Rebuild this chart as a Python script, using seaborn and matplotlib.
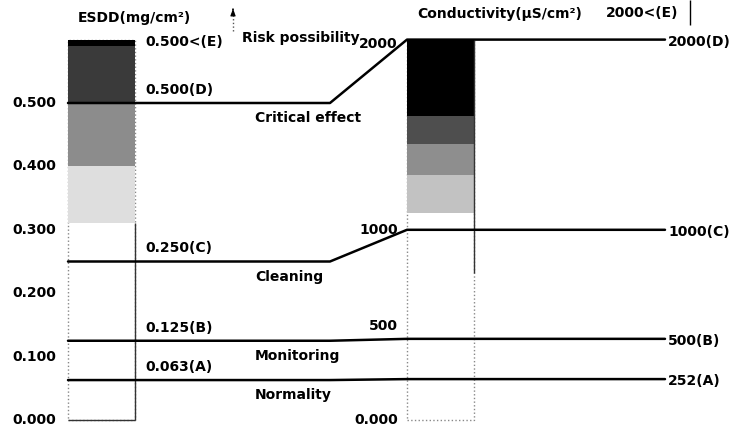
import numpy as np
import pandas as pd
import matplotlib
matplotlib.use("Agg")
import matplotlib.pyplot as plt
import seaborn as sns

# levels (A..D) on both scales
level_names = ['A', 'B', 'C', 'D']
esdd_levels = [0.063, 0.125, 0.250, 0.500]
cond_levels = [252, 500, 1000, 2000]
zone_names = ['Normality', 'Monitoring', 'Cleaning', 'Critical effect']

esdd_ticks = [0.0, 0.1, 0.2, 0.3, 0.4, 0.5]
cond_ticks = [0, 500, 1000, 2000]
cond_tick_labels = ['0.000', '500', '1000', '2000']
# conductivity scale is not linear: where each tick sits on the ESDD scale
cond_tick_esdd = [0.0, 0.128, 0.300, 0.600]

# shaded bands of the two columns
esdd_bands = [0.31, 0.40, 0.50, 0.59, 0.60]
esdd_colors = ['#dedede', '#8c8c8c', '#3a3a3a', '#000000']
cond_bands = [1090, 1290, 1450, 1600, 2000]
cond_colors = ['#c2c2c2', '#8e8e8e', '#4e4e4e', '#000000']


def c2e(v):
    return np.interp(v, cond_ticks, cond_tick_esdd)


sns.set_style('white')
plt.rcParams['font.family'] = ['DejaVu Sans']

fig = plt.figure(figsize=(7.4, 4.33), dpi=100)
ax = fig.add_axes([0, 0, 1, 1])
ax.set_xlim(0, 740)
# 634 px per 1.0 mg/cm2, zero at 420 px from top
ax.set_ylim(-13 / 634, 420 / 634)
ax.axis('off')

esdd_x0, esdd_x1 = 68, 135
cond_x0, cond_x1 = 407, 474
brk_x, line_end = 330, 665
fs = 10
txt = dict(fontsize=fs, fontweight='bold', color='black')

# columns
ax.bar(esdd_x0, esdd_bands[-1], width=esdd_x1 - esdd_x0, align='edge',
       color='white', edgecolor='#888888', ls=':', lw=1)
for i, col in enumerate(esdd_colors):
    ax.bar(esdd_x0, esdd_bands[i + 1] - esdd_bands[i], bottom=esdd_bands[i],
           width=esdd_x1 - esdd_x0, align='edge', color=col, lw=0)
ax.vlines(esdd_x1, 0, esdd_bands[0], color='#333333', lw=1)
ax.hlines(0, esdd_x0, esdd_x1, color='#333333', lw=1)

ax.bar(cond_x0, c2e(cond_bands[-1]), width=cond_x1 - cond_x0, align='edge',
       color='white', edgecolor='#888888', ls=':', lw=1)
for i, col in enumerate(cond_colors):
    lo, hi = c2e(cond_bands[i]), c2e(cond_bands[i + 1])
    ax.bar(cond_x0, hi - lo, bottom=lo, width=cond_x1 - cond_x0,
           align='edge', color=col, lw=0)
ax.vlines(cond_x1, 0.232, c2e(cond_bands[-1]), color='#333333', lw=1)

# level lines: flat on ESDD side, slope to conductivity side, flat again
rows = []
for name, e, c in zip(level_names, esdd_levels, cond_levels):
    for x, y in zip([esdd_x0, brk_x, cond_x0, line_end], [e, e, c2e(c), c2e(c)]):
        rows.append({'level': name, 'x': x, 'y': y})
df = pd.DataFrame(rows)
sns.lineplot(data=df, x='x', y='y', units='level', estimator=None,
             sort=False, color='black', lw=1.8, ax=ax)
ax.set_xlabel('')
ax.set_ylabel('')

# ESDD tick labels
for t in esdd_ticks:
    ax.text(56, t, f'{t:.3f}', ha='right', va='center', **txt)
# conductivity tick labels
for t, lab in zip(cond_ticks, cond_tick_labels):
    off = 13 if t == 500 else (-4 if t == 2000 else 0)
    ax.annotate(lab, (398, c2e(t)), xytext=(0, off), textcoords='offset pixels',
                ha='right', va='center', **txt)

# level / zone labels
for name, e, c, z in zip(level_names, esdd_levels, cond_levels, zone_names):
    ax.annotate(f'{e:.3f}({name})', (145, e), xytext=(0, 13),
                textcoords='offset pixels', ha='left', va='center', **txt)
    ax.annotate(z, (255, e), xytext=(0, -15), textcoords='offset pixels',
                ha='left', va='center', **txt)
    ax.annotate(f'{c}({name})', (668, c2e(c)), xytext=(0, -2),
                textcoords='offset pixels', ha='left', va='center', **txt)

# headers and E level
py = lambda p: (420 - p) / 634
ax.text(78, py(18), 'ESDD(mg/cm²)', ha='left', va='center', **txt)
ax.text(417, py(14), 'Conductivity(μS/cm²)', ha='left', va='center', **txt)
ax.text(145, py(42), f'{esdd_levels[-1]:.3f}<(E)', ha='left', va='center', **txt)
ax.text(242, py(38), 'Risk possibility', ha='left', va='center', **txt)
ax.text(606, py(13), f'{cond_levels[-1]}<(E)', ha='left', va='center', **txt)
ax.vlines(690, py(25), py(0), color='black', lw=1)
ax.vlines(233, py(31), py(10), color='#555555', lw=1, ls=':')
ax.annotate('', xy=(233, py(6)), xytext=(233, py(12)),
            arrowprops=dict(arrowstyle='-|>,head_length=0.4,head_width=0.15',
                            lw=0.8, color='black'))

fig.savefig('out.png', dpi=100)
